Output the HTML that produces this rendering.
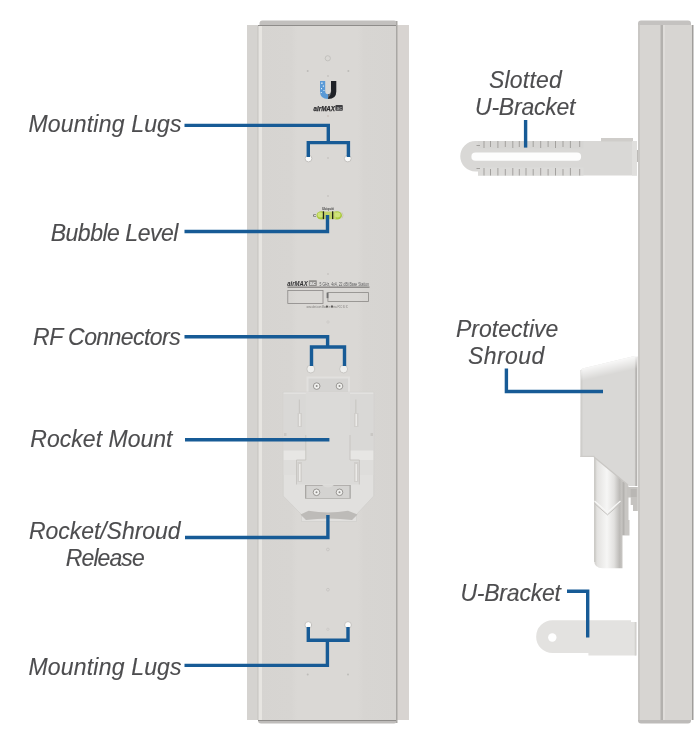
<!DOCTYPE html>
<html><head><meta charset="utf-8">
<style>
html,body{margin:0;padding:0;background:#fff;}
body{width:699px;height:733px;overflow:hidden;position:relative;}
svg{position:absolute;left:0;top:0;display:block;will-change:transform;}
text{font-family:"Liberation Sans",sans-serif;font-style:italic;fill:#4d4d4f;}
</style></head><body>
<svg width="699" height="733" viewBox="0 0 699 733">
<defs>
<linearGradient id="gPanel" x1="0" x2="1" y1="0" y2="0">
  <stop offset="0" stop-color="#d6d4d1"/>
  <stop offset="0.24" stop-color="#d7d5d2"/>
  <stop offset="0.28" stop-color="#dad8d5"/>
  <stop offset="0.72" stop-color="#dad8d5"/>
  <stop offset="0.76" stop-color="#d7d5d2"/>
  <stop offset="1" stop-color="#d6d4d1"/>
</linearGradient>
</defs>
<!-- FRONT VIEW -->
<rect x="247" y="25" width="162" height="695" fill="#d5d3d0"/>
<rect x="397" y="25" width="12" height="695" fill="#d8d4d1"/>
<rect x="259.5" y="20.5" width="137.5" height="10" rx="3" fill="#c2c0be"/>
<rect x="258" y="700" width="139" height="23.6" rx="3" fill="#bebcba"/>
<rect x="258" y="26" width="139" height="694" fill="url(#gPanel)"/>
<rect x="258" y="25" width="139" height="1" fill="#8e8c8a"/>
<rect x="258" y="720" width="139" height="1" fill="#8e8c8a"/>
<rect x="259" y="26" width="3" height="694" fill="#e7e5e1"/>
<rect x="257" y="26" width="1" height="694" fill="#cdcbc7"/>
<rect x="396" y="21" width="1.5" height="702" fill="#a9a7a4"/>


<!-- front decorations -->
<circle cx="327.8" cy="58.3" r="2.6" fill="none" stroke="#bdbbb8" stroke-width="0.8"/>
<circle cx="307.7" cy="70.9" r="1" fill="#bebcb9"/>
<circle cx="348.4" cy="70.9" r="1" fill="#bebcb9"/>
<circle cx="328" cy="76" r="0.9" fill="#c4c2bf"/>
<!-- U logo -->
<path d="M320,81 h5.2 v10 q0,3.3 3,3.3 v4.6 q-8.2,0 -8.2,-7.5 z" fill="#5b9ad6"/>
<path d="M331,81 h5.3 v10.4 q0,7.5 -8.2,7.5 v-4.6 q2.9,0 2.9,-3.3 z" fill="#1f2227"/>
<path d="M328.1,94.3 q2.9,0 2.9,-3.3 v-2 q1,5 -2.9,9 z" fill="#6a6e75"/>
<g fill="#e4f0fa"><rect x="321.2" y="82.5" width="1.4" height="1.4"/><rect x="322.8" y="85.5" width="1.2" height="1.2"/><rect x="321" y="88" width="1" height="1.2"/><rect x="323.5" y="90" width="1" height="1"/><rect x="320.8" y="92" width="1" height="1"/></g>
<text x="313.5" y="110.8" font-size="7.2" font-weight="bold" style="fill:#2a2a2c;stroke:#2a2a2c;stroke-width:0.25" textLength="21.5" lengthAdjust="spacingAndGlyphs">airMAX</text>
<rect x="335.4" y="105" width="7.4" height="5.8" rx="0.8" fill="#3f3f42"/>
<text x="336.4" y="109.6" font-size="4.5" font-weight="bold" style="fill:#a8a8a8;font-style:normal" textLength="5.5" lengthAdjust="spacingAndGlyphs">ac</text>
<circle cx="328" cy="116" r="0.9" fill="#c9c0bb"/>
<!-- top mounting holes -->
<circle cx="308.5" cy="158.5" r="3.4" fill="#fbfbfa" stroke="#c3c1be" stroke-width="1"/>
<circle cx="347.8" cy="158.5" r="3.4" fill="#fbfbfa" stroke="#c3c1be" stroke-width="1"/>
<circle cx="328" cy="158" r="0.9" fill="#c6c4c1"/>
<circle cx="328" cy="196" r="0.9" fill="#c6c4c1"/>
<!-- bubble level -->
<ellipse cx="321.5" cy="215.4" rx="5" ry="4.2" fill="#a9c83c"/>
<ellipse cx="337" cy="215.4" rx="5" ry="4.2" fill="#a9c83c"/>
<rect x="323" y="211.6" width="13" height="7.6" fill="#c3d46a"/>
<ellipse cx="320.5" cy="214.8" rx="3" ry="2.6" fill="#cfe27a"/>
<ellipse cx="337.5" cy="214.8" rx="3" ry="2.6" fill="#cfe27a"/>
<path d="M342,212.5 q2.2,2.9 0,5.8" fill="none" stroke="#c9c7b5" stroke-width="1"/>
<rect x="322.8" y="211.3" width="1.3" height="7.8" fill="#22231a"/>
<rect x="332" y="211.3" width="1.3" height="7.8" fill="#22231a"/>
<text x="313" y="217.3" font-size="4.3" font-weight="bold" style="fill:#444;font-style:normal">C</text>
<text x="322" y="209.5" font-size="3.8" font-weight="bold" style="fill:#4a4a4a;font-style:normal" textLength="12" lengthAdjust="spacingAndGlyphs">Ubiquiti</text>
<!-- label -->
<text x="287.3" y="285.9" font-size="7.2" font-weight="bold" style="fill:#2f2f31" textLength="20.5" lengthAdjust="spacingAndGlyphs">airMAX</text>
<rect x="308.8" y="280.2" width="8" height="5.7" rx="0.6" fill="#8f8d8b"/>
<text x="309.7" y="284.9" font-size="4.8" font-weight="bold" style="fill:#f0f0f0;font-style:normal" textLength="6" lengthAdjust="spacingAndGlyphs">ac</text>
<text x="319.5" y="285.6" font-size="5.6" style="fill:#5c5c5e;font-style:normal" textLength="49.5" lengthAdjust="spacingAndGlyphs">5 GHz, 4x4, 22 dBi Base Station</text>
<rect x="287.5" y="286.6" width="82" height="1.1" fill="#72706e"/>
<rect x="287.8" y="290.4" width="35.2" height="13" fill="none" stroke="#8a8886" stroke-width="0.8"/>
<rect x="327.9" y="292.6" width="40.6" height="8.9" fill="none" stroke="#8a8886" stroke-width="0.8"/>
<rect x="326.6" y="292.6" width="1.8" height="5.5" fill="#707070"/>
<text x="306.5" y="307.8" font-size="3" style="fill:#7a7876;font-style:normal" textLength="41.5" lengthAdjust="spacingAndGlyphs">www.ubnt.com  Made in China  FCC ID  IC</text>
<circle cx="327" cy="306.6" r="1.1" fill="#5e5c5a"/>
<circle cx="332" cy="306.6" r="1.1" fill="#5e5c5a"/>
<circle cx="328" cy="274" r="0.9" fill="#c6c4c1"/>
<circle cx="328" cy="322" r="1.2" fill="none" stroke="#c8c6c3" stroke-width="0.7"/>


<!-- RF connectors -->
<circle cx="310.8" cy="369" r="4" fill="#f0f0ee" stroke="#c9c7c4" stroke-width="1"/>
<circle cx="343.6" cy="369" r="4" fill="#f0f0ee" stroke="#c9c7c4" stroke-width="1"/>
<!-- Rocket mount -->
<rect x="306.5" y="376.5" width="43.5" height="16" fill="#e1e0de"/>
<rect x="308.5" y="378.5" width="39.5" height="14" fill="#d5d4d2"/>
<path d="M283.2,392.2 H373.7 V496 L356.5,514.5 V521.5 H301.5 V514.5 L283.2,496 Z" fill="#e1e0de" stroke="#d0cecb" stroke-width="0.7"/>
<rect x="283.6" y="392.6" width="89.7" height="58" fill="#d9d8d6"/>
<rect x="283.6" y="392.6" width="89.7" height="1.2" fill="#e4e3e1"/>
<rect x="283.6" y="450.6" width="22.2" height="9.4" fill="#e7e6e4"/>
<rect x="350" y="450.6" width="23.3" height="9.4" fill="#e7e6e4"/>
<rect x="283.6" y="460" width="89.7" height="15" fill="#dedddb"/>
<!-- central piece -->
<path d="M305.8,392.6 H350 V460 H359.4 V484.5 H296.5 V460 H305.8 Z" fill="#dbdad8"/>
<path d="M305.8,435 V460 H296.5 V484.5 M350,435 V460 H359.4 V484.5" fill="none" stroke="#c5c3c0" stroke-width="0.9"/>
<!-- slot grooves -->
<g fill="#c9c7c4">
<rect x="298.8" y="399.5" width="1.2" height="27"/>
<rect x="355.2" y="399.5" width="1.2" height="27"/>
<rect x="297.5" y="413" width="4.5" height="14" fill="#d0cecb"/>
<rect x="354" y="413" width="4.5" height="14" fill="#d0cecb"/>
<rect x="297.5" y="462" width="4.5" height="20" fill="#d0cecb"/>
<rect x="354" y="462" width="4.5" height="20" fill="#d0cecb"/>
</g>
<g fill="#ebeae8">
<rect x="299" y="414" width="1.5" height="12"/>
<rect x="355.5" y="414" width="1.5" height="12"/>
<rect x="299" y="464" width="1.5" height="17"/>
<rect x="355.5" y="464" width="1.5" height="17"/>
</g>
<rect x="284" y="433" width="2.5" height="3" fill="#c9c7c4"/>
<rect x="370.5" y="433" width="2.5" height="3" fill="#c9c7c4"/>
<!-- bottom screw plate -->
<rect x="305" y="485" width="45.8" height="13.7" fill="#a9a7a4"/>
<rect x="306.3" y="485.8" width="43.2" height="12.2" fill="#d4d3d1"/>
<path d="M322,485 Q328,490 334,485 Z" fill="#dbdad8"/>
<!-- release band -->
<path d="M300.5,514.5 L308.6,510.8 Q328,514 348,510.8 L357.5,514.5 L352,520 Q328,517 306,520 Z" fill="#bdbbb8"/>
<!-- screws -->
<g fill="#f1f1ef" stroke="#8e8c89" stroke-width="0.9">
<circle cx="316.7" cy="386.1" r="3.3"/>
<circle cx="339.5" cy="386.1" r="3.3"/>
<circle cx="316.5" cy="492.3" r="3.3"/>
<circle cx="339.5" cy="492.3" r="3.3"/>
</g>
<g fill="#8e8c89">
<circle cx="316.7" cy="386.1" r="1"/>
<circle cx="339.5" cy="386.1" r="1"/>
<circle cx="316.5" cy="492.3" r="1"/>
<circle cx="339.5" cy="492.3" r="1"/>
</g>
<circle cx="327.9" cy="549.5" r="1.4" fill="none" stroke="#c4c2bf" stroke-width="0.8"/>
<circle cx="327.9" cy="589.7" r="1.4" fill="none" stroke="#c4c2bf" stroke-width="0.8"/>
<!-- bottom mounting holes -->
<circle cx="308.3" cy="625" r="3.4" fill="#fbfbfa" stroke="#c3c1be" stroke-width="1"/>
<circle cx="348" cy="625" r="3.4" fill="#fbfbfa" stroke="#c3c1be" stroke-width="1"/>
<circle cx="327.9" cy="629.3" r="1.2" fill="none" stroke="#c8c6c3" stroke-width="0.7"/>
<circle cx="307.7" cy="674.4" r="1" fill="#bebcb9"/>
<circle cx="348" cy="674.4" r="1" fill="#bebcb9"/>

<!-- SLOTTED U-BRACKET -->
<path d="M475.5,141 H637 V175.5 H478 V171.5 H475.5 A15.25,15.25 0 0 1 475.5,141 Z" fill="#d9d8d6"/>
<rect x="478" y="167.5" width="105.5" height="8" fill="#dcdbd9"/>
<rect x="478" y="141" width="105.5" height="7.5" fill="#d6d5d3"/>
<rect x="601" y="138" width="32" height="3.5" fill="#cfcdca"/>
<rect x="632" y="141" width="5" height="34.5" fill="#e0dfdd"/>
<rect x="637" y="150" width="1.5" height="12" fill="#bdbbb8"/>
<path d="M475.5,152.6 H577 A4.1,4.1 0 0 1 577,160.8 H475.5 A4.1,4.1 0 0 1 475.5,152.6 Z" fill="#fdfdfd"/>
<g stroke="#a3a19e" stroke-width="1">
<path d="M484,141 V148 M490.5,141 V147 M497.9,141 V148 M505.3,141 V147 M512.8,141 V148 M519.3,141 V147 M533.2,141 V147 M540.7,141 V148 M548.1,141 V147 M555.5,141 V148 M563,141 V147 M570.4,141 V148 M579.7,141 V147"/>
<path d="M484,168 V175.5 M490.5,169 V175.5 M497.9,168 V175.5 M505.3,169 V175.5 M512.8,168 V175.5 M519.3,169 V175.5 M526,168 V175.5 M533.2,169 V175.5 M540.7,168 V175.5 M548.1,169 V175.5 M555.5,168 V175.5 M563,169 V175.5 M570.4,168 V175.5 M579.7,169 V175.5"/>
<path d="M476.5,145.5 H480 M476.5,168.5 H480"/>
</g>
<!-- PROTECTIVE SHROUD -->
<defs>
<linearGradient id="gShroudTop" x1="0" x2="0" y1="0" y2="1">
  <stop offset="0" stop-color="#e6e5e3"/>
  <stop offset="1" stop-color="#d9d8d6"/>
</linearGradient>
<linearGradient id="gRocket" x1="0" x2="1" y1="0" y2="0">
  <stop offset="0" stop-color="#cfcdca"/>
  <stop offset="0.12" stop-color="#e4e3e1"/>
  <stop offset="0.45" stop-color="#f6f6f5"/>
  <stop offset="0.7" stop-color="#e2e1df"/>
  <stop offset="0.9" stop-color="#bcbab7"/>
  <stop offset="1" stop-color="#c9c7c4"/>
</linearGradient>
</defs>
<!-- rocket body -->
<path d="M594.2,455 H622.5 V568.3 H602.5 Q594.2,568.3 594.2,560 Z" fill="url(#gRocket)"/>
<rect x="594.2" y="455" width="1.2" height="107" fill="#c9c7c4"/>
<path d="M594.5,503.5 L607.5,514.8 L620.5,503.5" fill="none" stroke="#c3c1be" stroke-width="1"/>
<path d="M594.5,501 L607.5,512.3 L620.5,501" fill="none" stroke="#f7f7f6" stroke-width="1.2"/>
<!-- bracket bits right of rocket -->
<path d="M622,481 H628.5 V520 H629.5 V535.4 H622 Z" fill="#c8c6c3"/>
<rect x="622.5" y="482" width="2" height="53" fill="#b4b2af"/>
<path d="M627,487 H637.8 V511 H633 V505 H630.7 V497.6 H627 Z" fill="#c5c3c0"/>
<rect x="630.7" y="489" width="6" height="8" fill="#b9b7b4"/>
<!-- shroud -->
<defs>
<linearGradient id="gShFade" gradientUnits="userSpaceOnUse" x1="608" y1="362" x2="610.8" y2="374.5">
  <stop offset="0" stop-color="#ffffff" stop-opacity="0.85"/>
  <stop offset="1" stop-color="#ffffff" stop-opacity="0"/>
</linearGradient>
<linearGradient id="gShStrip" x1="0" x2="1" y1="0" y2="0">
  <stop offset="0" stop-color="#d3d1ce"/>
  <stop offset="0.55" stop-color="#aeacaa"/>
  <stop offset="1" stop-color="#c9c7c4"/>
</linearGradient>
</defs>
<path d="M581,371 Q581,368.5 583.5,368.3 L634.5,356 H637.4 V486 H629 L627.6,484.3 L594,457 H580.5 Z" fill="#d9d8d6"/>
<rect x="580.5" y="370" width="2" height="87" fill="#cfcecb"/>
<rect x="634.7" y="357" width="2.7" height="129" fill="url(#gShStrip)"/>
<path d="M581,371 Q581,368.5 583.5,368.3 L634.5,356 H637.4 V386 H581 Z" fill="url(#gShFade)"/>
<rect x="637.4" y="357" width="1.2" height="129" fill="#e9e8e6"/>
<path d="M594,457 L628,485" stroke="#c9c7c4" stroke-width="1.2" fill="none"/>
<rect x="580.5" y="455.8" width="14" height="1.2" fill="#cdcbc8"/>
<!-- U-BRACKET bottom -->
<path d="M552.5,620.3 H631 V622 H636.4 V655.5 H588.4 V653 H552.5 A16.35,16.35 0 0 1 552.5,620.3 Z" fill="#e3e2e0"/>
<rect x="634.7" y="622" width="1.7" height="33.5" fill="#d2d0cd"/>
<circle cx="552.3" cy="637.5" r="4.2" fill="#ffffff"/>

<!-- BLUE CALLOUT LINES -->
<g fill="none" stroke="#175b96" stroke-width="3.4" stroke-linecap="butt" stroke-linejoin="miter">
<path d="M184.5,125.4 H328.3 V142.6"/>
<path d="M308.3,157 V142.6 H348.4 V157"/>
<path d="M184.5,231.5 H327.5 V215"/>
<path d="M184.5,336.7 H327.6 V347"/>
<path d="M311.5,366 V347 H344.5 V366"/>
<path d="M185,439.7 H329.4"/>
<path d="M185,537.5 H327.9 V515"/>
<path d="M184.5,665.4 H327.4 V640.3"/>
<path d="M308.3,627 V640.3 H348 V627"/>
<path d="M525.6,120 V147.6"/>
<path d="M506.4,368.6 V391.5 H603"/>
<path d="M567,591.2 H587.7 V637.5"/>
</g>

<!-- SIDE VIEW -->
<rect x="638" y="20.5" width="53" height="8" rx="3" fill="#c4c2c0"/>
<rect x="638" y="710" width="53" height="13.5" rx="3" fill="#bdbbb9"/>
<rect x="638" y="25" width="55" height="695" fill="#d7d5d2"/>
<rect x="638" y="25" width="2" height="695" fill="#c9c7c4"/>
<rect x="660.5" y="25" width="2.5" height="695" fill="#b3b1ae"/>
<rect x="663" y="25" width="2" height="695" fill="#dfddda"/>
<rect x="692" y="25" width="1.5" height="695" fill="#a09e9b"/>

<!-- LABELS -->
<g font-size="23" style="stroke:#4f4f51;stroke-width:0.12">
<text id="ML1" x="28.50" y="132" textLength="153.10">Mounting Lugs</text>
<text id="BL" x="50.70" y="240.50" textLength="127.70">Bubble Level</text>
<text id="RF" x="33.10" y="345" textLength="147.60">RF Connectors</text>
<text id="RM" x="30.30" y="447" textLength="142.20">Rocket Mount</text>
<text id="RS" x="28.90" y="538.50" textLength="151.70">Rocket/Shroud</text>
<text id="RE" x="65.80" y="566.10" textLength="78.90">Release</text>
<text id="ML2" x="28.50" y="674.80" textLength="153.10">Mounting Lugs</text>
<text id="SL" x="489.00" y="87.5" textLength="72.80">Slotted</text>
<text id="UB1" x="475.00" y="114.70" textLength="100.50">U-Bracket</text>
<text id="PR" x="456.00" y="336.90" textLength="102.30">Protective</text>
<text id="SH" x="468.10" y="363.90" textLength="76.20">Shroud</text>
<text id="UB2" x="460.40" y="601" textLength="100.50">U-Bracket</text>
</g>
</svg>
</body></html>
